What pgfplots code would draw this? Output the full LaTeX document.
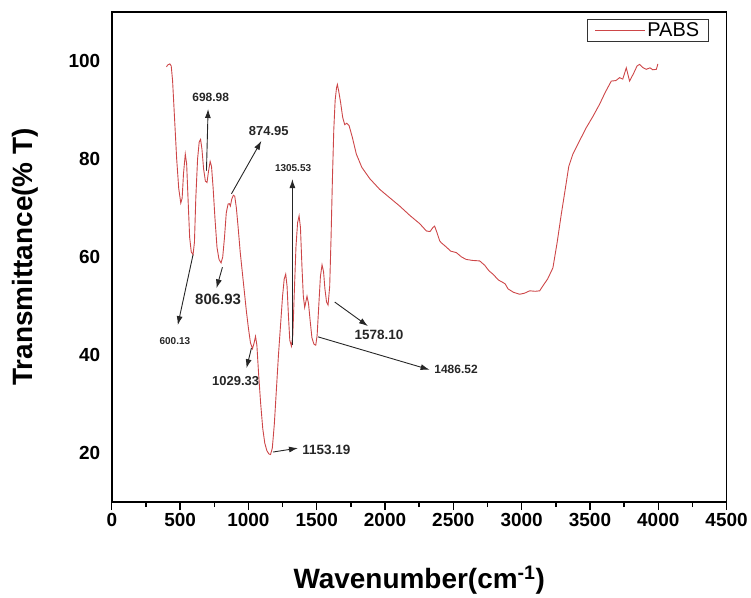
\documentclass[border=0pt]{standalone}
\usepackage{fontspec}
\setmainfont{Liberation Sans}
\usepackage{pgfplots}
\pgfplotsset{compat=1.18}
\usetikzlibrary{arrows.meta}
\definecolor{irred}{RGB}{205,70,72}

\begin{document}
\begin{tikzpicture}
\begin{axis}[
  scale only axis,
  width=616pt, height=491pt,
  xmin=0, xmax=4500, ymin=10, ymax=110,
  xtick={0,500,...,4500}, minor x tick num=1,
  ytick={20,40,...,100},
  xtick pos=bottom, ytick pos=left,
  tick align=outside,
  major tick length=8pt, minor tick length=5pt,
  y tick style={draw=none},
  every tick/.style={black, line width=1.4pt},
  axis line style={line width=1.6pt},
  /pgf/number format/assume math mode=true,
  /pgf/number format/1000 sep={},
  ticklabel style={font=\fontsize{19}{19}\selectfont\bfseries},
  xlabel={Wavenumber(cm\textsuperscript{-1})},
  ylabel={Transmittance(\% T)},
  label style={font=\fontsize{28}{28}\selectfont\bfseries},
  xlabel style={at={(axis description cs:0.5,-0.177)}, anchor=base},
  ylabel style={at={(axis description cs:-0.14,0.5)}, anchor=center},
  legend style={at={(rel axis cs:1,1)}, xshift=-18pt, yshift=-7pt,
    anchor=north east, draw=black!80, line width=1pt,
    font=\fontsize{20}{20}\selectfont, inner xsep=7pt, inner ysep=1.5pt},
  legend image code/.code={\draw[#1] (0pt,0pt) -- (50pt,0pt);},
]
\addplot[irred, line width=0.9pt] coordinates {
 (400,98.8) (410,99.2) (425,99.4) (435,99.0) (445,96) (460,88) (475,80)
 (490,74) (505,71.0) (515,72) (525,77) (538,81) (548,79) (558,72) (570,64)
 (582,61) (595,60.5) (605,63) (615,72) (628,80) (640,83.5) (650,84) (660,82)
 (672,78) (685,75.5) (697,75.2) (708,77.5) (720,79.5) (730,78.5) (742,74)
 (755,68) (770,62) (785,59.5) (800,58.8) (812,60) (825,64) (838,69)
 (851,70.8) (860,70.9) (868,70.4) (878,71.8) (890,72.6) (900,72.4) (912,70)
 (925,66) (940,61) (955,57) (970,53) (985,49) (1000,45.5) (1015,42.5)
 (1030,41.3) (1042,42.5) (1052,43.8) (1062,42) (1075,36) (1090,30)
 (1105,25) (1120,22) (1135,20.5) (1150,19.8) (1162,19.7) (1175,21)
 (1190,26) (1205,33) (1220,40) (1235,46) (1250,52) (1262,55.5) (1273,56.5)
 (1283,54) (1293,48) (1303,43) (1315,41.8) (1325,44) (1335,52) (1348,62)
 (1360,67) (1371,68.4) (1381,66) (1392,58) (1402,52) (1412,49.7) (1420,50.8)
 (1429,52) (1440,50.5) (1452,47) (1465,43.5) (1480,42.2) (1493,42) (1503,44)
 (1515,50) (1527,56) (1539,58.4) (1550,57) (1560,53.5) (1572,50.8)
 (1583,50.2) (1595,54) (1605,64) (1615,76) (1625,86) (1635,92) (1645,94.5)
 (1651,95.2) (1660,94) (1675,91.5) (1690,88.5) (1705,87) (1720,87.3)
 (1737,86.8) (1760,84.5) (1790,81) (1830,78.3) (1888,76) (1961,73.8)
 (2034,72.1) (2107,70.4) (2181,68.5) (2254,66.8) (2303,65.3) (2330,65.2)
 (2350,66) (2363,66.3) (2380,65) (2400,63.3) (2412,62.9) (2450,62)
 (2480,61.2) (2522,60.9) (2560,60) (2595,59.5) (2640,59.3) (2693,59.2)
 (2730,58.3) (2760,57.2) (2790,56.5) (2830,55.3) (2863,54.8) (2880,54.5)
 (2900,53.5) (2940,52.8) (2985,52.4) (3020,52.6) (3059,53.1) (3100,53)
 (3132,53.1) (3160,54.3) (3190,55.5) (3229,57.8) (3260,63) (3290,68.7)
 (3320,74) (3345,78.5) (3375,81) (3420,83.5) (3473,86.4) (3520,88.6)
 (3571,91.2) (3610,93.5) (3656,95.9) (3690,96) (3717,96.6) (3740,96.3)
 (3766,98.6) (3790,95.9) (3820,97.5) (3845,99) (3863,99.3) (3890,98.6)
 (3912,98.3) (3940,98.6) (3960,98.2) (3986,98.3) (3997,99.4)
};
\addlegendentry{PABS}

% peak annotations
\tikzset{ann/.style={-{Latex[length=9pt,width=6pt]}, black!85, line width=0.9pt},
         lab/.style={font=\bfseries\fontsize{#1}{#1}\selectfont, text=black!85, inner sep=0pt}}
\draw[ann] (axis cs:595,60.5) -- (axis cs:483,46.1);
\node[lab=10] at (axis cs:462,42.9) {600.13};
\draw[ann] (axis cs:693,77.6) -- (axis cs:705,90.2);
\node[lab=12] at (axis cs:724,92.5) {698.98};
\draw[ann] (axis cs:876,72.9) -- (axis cs:1095,83.7);
\node[lab=13] at (axis cs:1149,85.8) {874.95};
\draw[ann] (axis cs:1322,42) -- (axis cs:1322,75.9);
\node[lab=10] at (axis cs:1327,78.1) {1305.53};
\draw[ann] (axis cs:810,57.9) -- (axis cs:766,53.6);
\node[lab=15] at (axis cs:778,51.3) {806.93};
\draw[ann] (axis cs:1022,41.4) -- (axis cs:986,37.3);
\node[lab=13] at (axis cs:907,34.6) {1029.33};
\draw[ann] (axis cs:1180,20.2) -- (axis cs:1363,21);
\node[lab=13.5] at (axis cs:1571,20.7) {1153.19};
\draw[ann] (axis cs:1632,50.8) -- (axis cs:1875,45.9);
\node[lab=13.5] at (axis cs:1956,44.1) {1578.10};
\draw[ann] (axis cs:1510,43.7) -- (axis cs:2326,37);
\node[lab=12] at (axis cs:2520,37) {1486.52};
\end{axis}
\path ([xshift=-112pt,yshift=-91pt]current axis.south west) rectangle ([xshift=23pt,yshift=12pt]current axis.north east);
\end{tikzpicture}
\end{document}
